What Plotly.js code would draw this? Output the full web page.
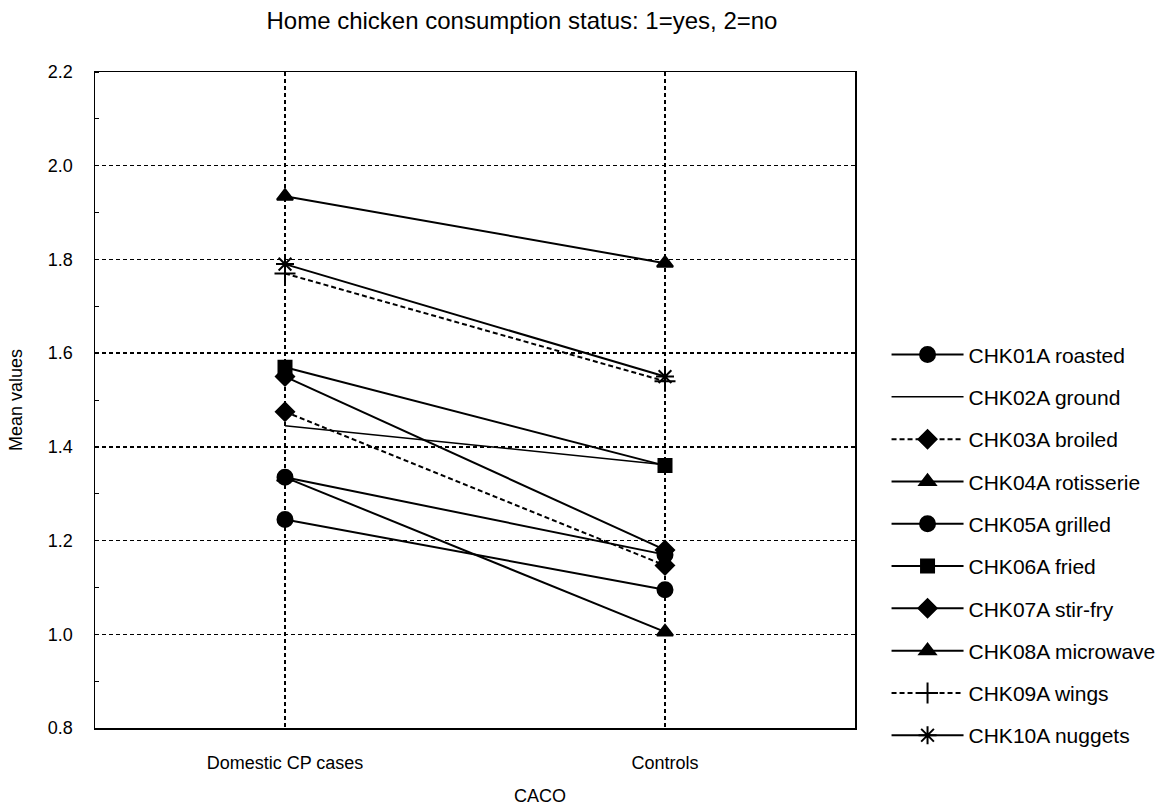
<!DOCTYPE html>
<html>
<head>
<meta charset="utf-8">
<script src="https://cdn.plot.ly/plotly-3.0.1.min.js"></script>
<style>html,body{margin:0;padding:0;background:#fff;}#chart{width:1173px;height:805px;}</style>
</head>
<body>
<div id="chart"></div>
<script>
const categories = ['Domestic CP cases', 'Controls'];
const seriesNames = ['CHK01A roasted','CHK02A ground','CHK03A broiled','CHK04A rotisserie','CHK05A grilled','CHK06A fried','CHK07A stir-fry','CHK08A microwave','CHK09A wings','CHK10A nuggets'];
const roasted    = [1.245, 1.095];
const ground     = [1.445, 1.362];
const broiled    = [1.475, 1.147];
const rotisserie = [1.935, 1.792];
const grilled    = [1.335, 1.170];
const fried      = [1.570, 1.360];
const stirfry    = [1.550, 1.180];
const microwave  = [1.335, 1.005];
const wings      = [1.770, 1.540];
const nuggets    = [1.790, 1.550];
const yTickVals  = [0.8, 1.0, 1.2, 1.4, 1.6, 1.8, 2.0, 2.2];
const xTitle = 'CACO';

const seriesValues = [roasted, ground, broiled, rotisserie, grilled, fried, stirfry, microwave, wings, nuggets];
const styles = [
  {symbol:'circle', size:15, dash:'solid'},
  {symbol:'circle', size:0, dash:'solid', width:1.5},
  {symbol:'diamond', size:14, dash:'5px,3px'},
  {symbol:'triangle-up', size:14, dash:'solid'},
  {symbol:'circle', size:15, dash:'solid'},
  {symbol:'square', size:13, dash:'solid'},
  {symbol:'diamond', size:14, dash:'solid'},
  {symbol:'triangle-up', size:14, dash:'solid'},
  {symbol:'cross-thin-open', size:15, dash:'5px,3px'},
  {symbol:'asterisk-open', size:15, dash:'solid'}
];

const traces = seriesNames.map((name, i) => ({
  type: 'scatter',
  mode: styles[i].size ? 'lines+markers' : 'lines',
  name: name,
  legendgroup: 'g' + i,
  x: categories,
  y: seriesValues[i],
  line: {color: '#000', width: styles[i].width || 2, dash: styles[i].dash},
  marker: {symbol: styles[i].symbol, size: styles[i].size || 1, color: '#000',
           line: {color: '#000', width: 2}},
  cliponaxis: false
}));

const layout = {
  width: 1173, height: 805,
  paper_bgcolor: '#fff', plot_bgcolor: '#fff',
  font: {family: 'Liberation Sans, Arial, sans-serif', size: 18, color: '#000'},
  margin: {l: 95, r: 318, t: 72, b: 77},
  title: {text: 'Home chicken consumption status: 1=yes, 2=no', x: 0.445, xref: 'container',
          xanchor: 'center', y: 0.975, yref: 'container', yanchor: 'middle', font: {size: 24}},
  xaxis: {
    type: 'category', range: [-0.5, 1.5],
    showline: true, linecolor: '#000', linewidth: 1.5, mirror: true,
    showgrid: true, gridcolor: '#000', gridwidth: 1.5, griddash: '4px,3px',
    ticks: '', ticklabelstandoff: 18, tickfont: {size: 18},
    zeroline: false,
    automargin: false
  },
  yaxis: {
    range: [0.8, 2.2], tickvals: yTickVals, tickformat: '.1f',
    showline: true, linecolor: '#000', linewidth: 1.5, mirror: true,
    showgrid: true, gridcolor: '#000', gridwidth: 1.5, griddash: '4px,3px',
    ticks: '', ticklabelstandoff: 17, tickfont: {size: 18},
    zeroline: false,
    minor: {dtick: 0.1, tick0: 0.8, ticks: 'inside', ticklen: 4, tickcolor: '#000', tickwidth: 1, showgrid: false},
    title: {text: 'Mean values', font: {size: 18}, standoff: 20},
    automargin: false
  },
  annotations: [{
    text: xTitle, xref: 'paper', yref: 'paper', x: 0.5855, y: -0.103,
    xanchor: 'center', yanchor: 'middle', showarrow: false, font: {size: 18}
  }],
  showlegend: true,
  legend: {
    x: 1.0415, xanchor: 'left', y: 0.6, yanchor: 'top',
    traceorder: 'grouped', tracegroupgap: 12,
    font: {size: 21}, itemwidth: 72,
    bgcolor: 'rgba(0,0,0,0)'
  }
};

Plotly.newPlot('chart', traces, layout, {displayModeBar: false, staticPlot: true});
</script>
</body>
</html>
